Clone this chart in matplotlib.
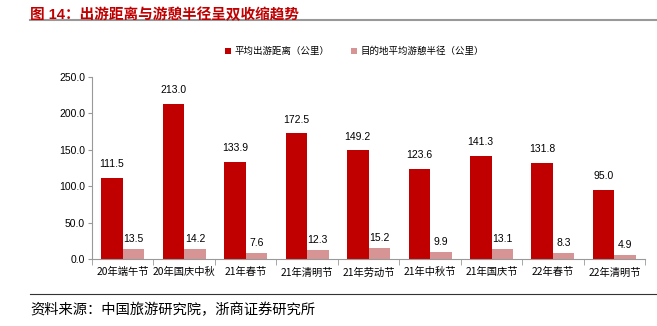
import numpy as np
import matplotlib
matplotlib.use("Agg")
import matplotlib.pyplot as plt

plt.rcParams['font.family'] = ['Liberation Sans', 'Noto Sans CJK SC', 'DejaVu Sans']

categories = ['20年端午节', '20年国庆中秋', '21年春节', '21年清明节', '21年劳动节',
              '21年中秋节', '21年国庆节', '22年春节', '22年清明节']
distance = [111.5, 213.0, 133.9, 172.5, 149.2, 123.6, 141.3, 131.8, 95.0]
radius = [13.5, 14.2, 7.6, 12.3, 15.2, 9.9, 13.1, 8.3, 4.9]

red = '#C00000'
pink = '#D69494'
cjk = ['Noto Sans CJK SC', 'DejaVu Sans']

fig = plt.figure(figsize=(6.57, 3.26), dpi=100)
ax = fig.add_axes([0.140, 0.2055, 0.842, 0.558])

x = np.arange(len(categories))
w = 0.35
b1 = ax.bar(x - w / 2, distance, w, color=red, label='平均出游距离（公里）')
b2 = ax.bar(x + w / 2, radius, w, color=pink, label='目的地平均游憩半径（公里）')

# 数值标签
for rect, v in zip(b1, distance):
    ax.text(rect.get_x() + rect.get_width() / 2, v + 12, f'{v:.1f}',
            ha='center', va='bottom', fontsize=7.5)
for rect, v in zip(b2, radius):
    ax.text(rect.get_x() + rect.get_width() / 2, v + 7, f'{v:.1f}',
            ha='center', va='bottom', fontsize=7.5)

ax.set_xlim(-0.5, len(categories) - 0.5)
ax.set_ylim(0, 250)
ax.set_yticks(np.arange(0, 251, 50))
ax.set_yticklabels([f'{v:.1f}' for v in np.arange(0, 251, 50)], fontsize=7.5)
ax.set_xticks(x)
ax.set_xticklabels(categories, fontsize=7.4, family=cjk)
ax.tick_params(axis='x', length=0, pad=6)
ax.set_xticks(np.arange(-0.5, len(categories)), minor=True)
ax.tick_params(axis='x', which='minor', length=4, color='#999999')
ax.tick_params(axis='y', length=3, color='#999999', pad=2)
for s in ['top', 'right']:
    ax.spines[s].set_visible(False)
for s in ['left', 'bottom']:
    ax.spines[s].set_color('#999999')

ax.legend(loc='lower center', bbox_to_anchor=(0.475, 1.07), ncol=2, frameon=False,
          handlelength=0.6, handleheight=0.6, handletextpad=0.4,
          columnspacing=2.3, prop={'family': cjk, 'size': 6.8})

fig.text(0.046, 0.975, '图 14：出游距离与游憩半径呈双收缩趋势', color=red,
         fontsize=10.5, fontweight='bold', va='top', ha='left')
fig.add_artist(plt.Line2D([0.046, 1.0], [0.938, 0.938], color='#999999', lw=1.5))
fig.add_artist(plt.Line2D([0.046, 1.0], [0.098, 0.098], color='#333333', lw=0.8))
fig.text(0.046, 0.05, '资料来源：中国旅游研究院，浙商证券研究所', fontsize=10.3,
         va='center', ha='left', family=cjk)

fig.savefig('out.png', dpi=100)
